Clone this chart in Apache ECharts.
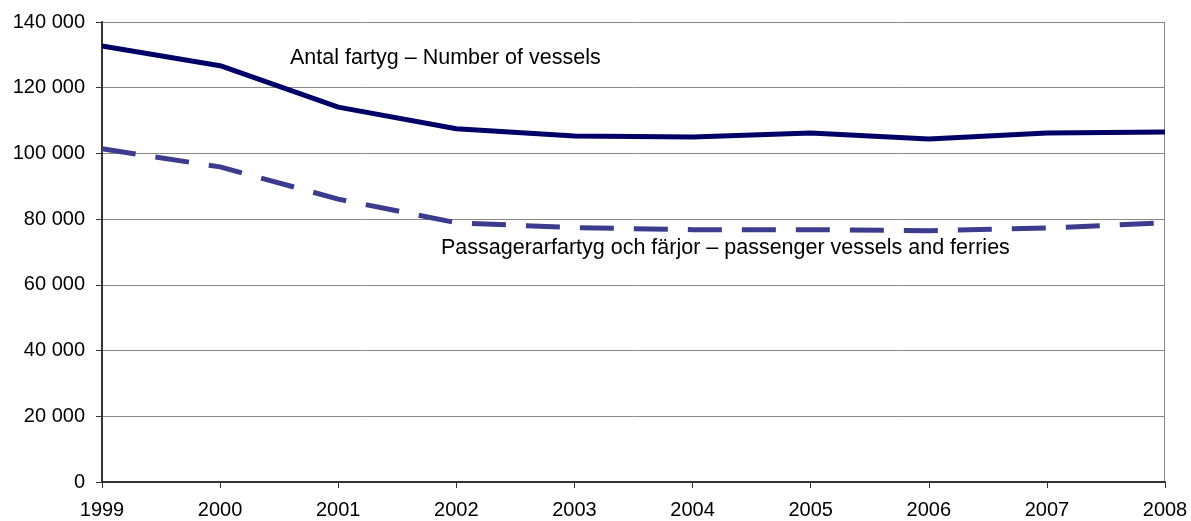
<!DOCTYPE html>
<html>
<head>
<meta charset="utf-8">
<script src="https://cdn.jsdelivr.net/npm/echarts@6/dist/echarts.min.js"></script>
<style>
    html, body { margin: 0; padding: 0; background: #fff; }
    #main { width: 1191px; height: 521px; }
</style>
</head>
<body>
<div id="main"></div>
<script>
var years = ['1999', '2000', '2001', '2002', '2003', '2004', '2005', '2006', '2007', '2008'];
var vessels = [132700, 126700, 114100, 107500, 105300, 105000, 106200, 104400, 106200, 106500];
var passenger = [101400, 95900, 86100, 78900, 77400, 76800, 76800, 76500, 77300, 78900];
var vesselsLabel = 'Antal fartyg – Number of vessels';
var passengerLabel = 'Passagerarfartyg och färjor – passenger vessels and ferries';

var chart = echarts.init(document.getElementById('main'));

function fmt(v) {
    return String(v).replace(/\B(?=(\d{3})+(?!\d))/g, ' ');
}

var option = {
    animation: false,
    textStyle: { fontFamily: 'Liberation Sans, Arial, sans-serif' },
    grid: { left: 102, right: 26, top: 22, bottom: 39 },
    xAxis: {
        type: 'category',
        data: years,
        boundaryGap: false,
        axisLine: { lineStyle: { color: '#333', width: 2 } },
        axisTick: { show: true, length: 6, lineStyle: { color: '#333' } },
        axisLabel: { color: '#000', fontSize: 20, margin: 18, showMaxLabel: true }
    },
    yAxis: {
        type: 'value',
        min: 0,
        max: 140000,
        interval: 20000,
        axisLine: { show: true, lineStyle: { color: '#333', width: 2 } },
        axisTick: { show: true, length: 6, lineStyle: { color: '#333' } },
        axisLabel: { color: '#000', fontSize: 20, margin: 17, formatter: fmt },
        splitLine: { lineStyle: { color: '#888', width: 1 } }
    },
    series: [
        {
            name: vesselsLabel,
            type: 'line',
            data: vessels,
            symbol: 'none',
            lineStyle: { color: '#000066', width: 5 },
            z: 3
        },
        {
            name: passengerLabel,
            type: 'line',
            data: passenger,
            symbol: 'none',
            lineStyle: { color: '#3c3c8f', width: 5, type: [34, 20] },
            z: 2
        }
    ],
    graphic: [
        {
            type: 'rect',
            shape: { x: 1164, y: 22, width: 1, height: 460 },
            style: { fill: '#888' }
        },
        {
            type: 'text',
            left: 290,
            top: 47,
            style: { text: vesselsLabel, fontSize: 21.5, fill: '#000', fontFamily: 'Liberation Sans, Arial, sans-serif' }
        },
        {
            type: 'text',
            left: 441,
            top: 237,
            style: { text: passengerLabel, fontSize: 21.5, fill: '#000', fontFamily: 'Liberation Sans, Arial, sans-serif' }
        }
    ]
};

chart.setOption(option);
</script>
</body>
</html>
